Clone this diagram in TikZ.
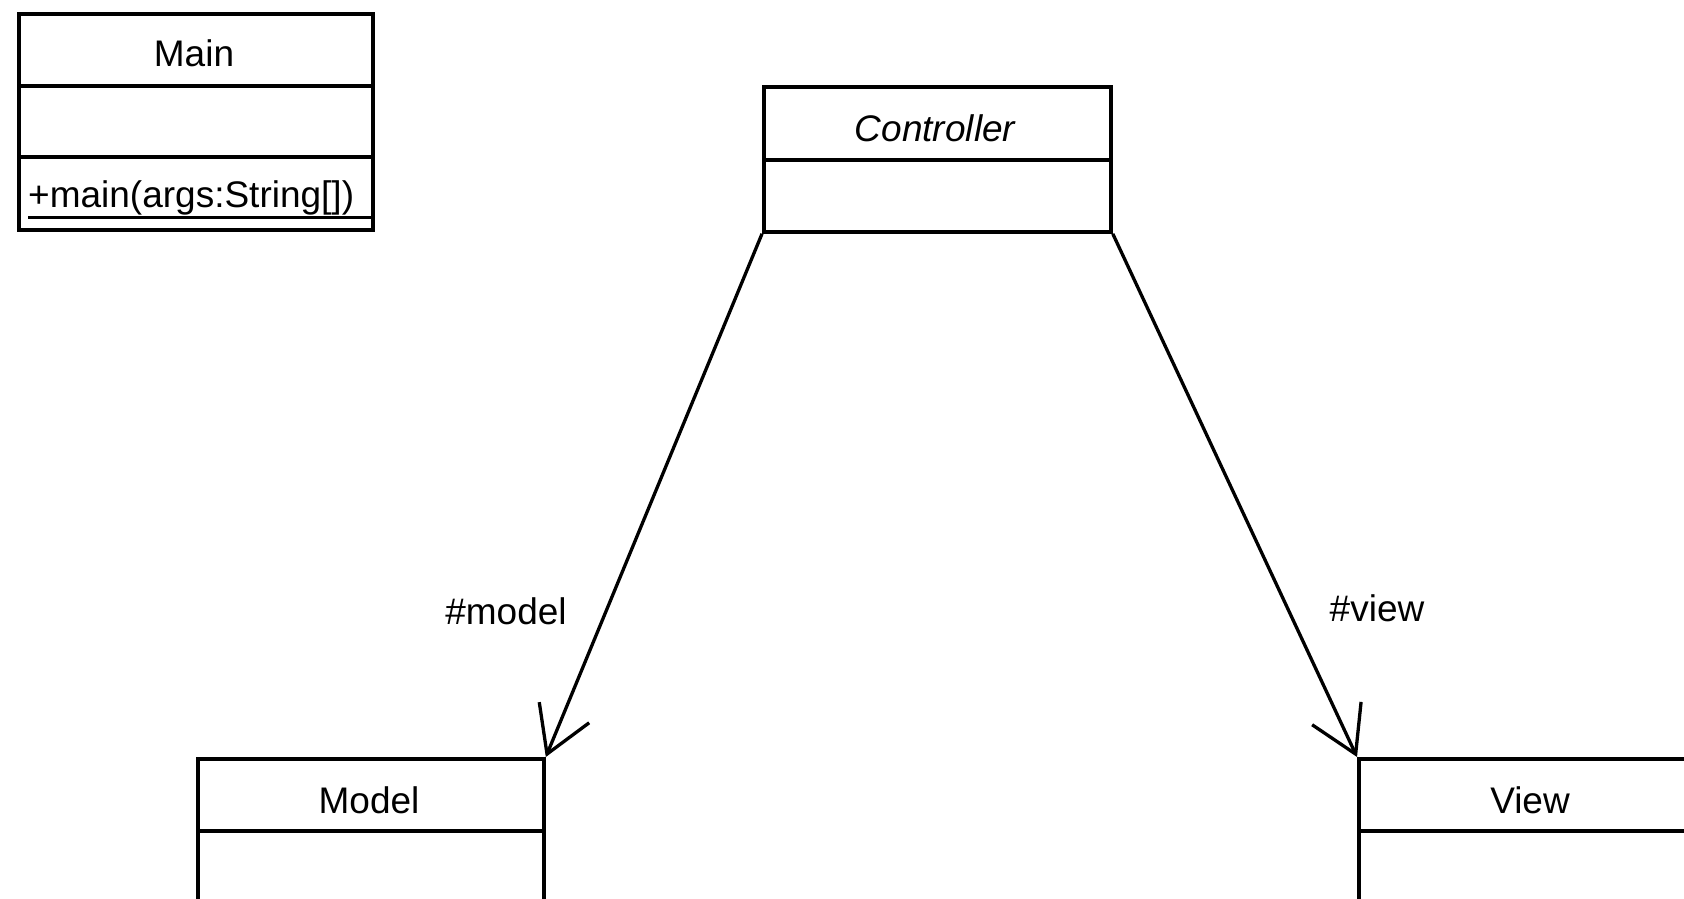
\documentclass[tikz,border=0pt]{standalone}
\usepackage{fontspec}
\setmainfont{Liberation Sans}
\usetikzlibrary{arrows.meta}
\begin{document}
\begin{tikzpicture}[x=1pt,y=-1pt]
\tikzset{
  classbox/.style={draw, line width=3.8pt, inner sep=0pt, anchor=north west},
  txt/.style={font=\fontsize{37}{44}\selectfont, inner sep=0pt},
  divider/.style={line width=3.8pt},
  assoc/.style={line width=3.3pt, -{Straight Barb[length=45pt,width=54pt]}}
}
\useasboundingbox (0,0) rectangle (1684,898);
\clip (0,0) rectangle (1684,898);

% Main class with a static operation
\node[classbox, minimum width=354pt, minimum height=216pt] (main) at (17,12) {};
\draw[divider] (main.west |- 0,86) -- (main.east |- 0,86);
\draw[divider] (main.west |- 0,157) -- (main.east |- 0,157);
\node[txt] (mainname) at (194,53) {Main};
\node[txt, anchor=base west] (mainop) at (28,207) {+main(args:String[])};
\draw[line width=3pt] (mainop.base west |- 0,217) -- (main.east |- 0,217);

% Abstract controller
\node[classbox, minimum width=347pt, minimum height=145pt] (controller) at (762,85) {};
\draw[divider] (controller.west |- 0,160) -- (controller.east |- 0,160);
\node[txt, font=\fontsize{37}{44}\selectfont\itshape] (controllername) at (935,128) {Controller};

% Model
\node[classbox, minimum width=346pt, minimum height=214pt] (model) at (196,757) {};
\draw[divider] (model.west |- 0,831) -- (model.east |- 0,831);
\node[txt] (modelname) at (369,800) {Model};

% View
\node[classbox, minimum width=346pt, minimum height=214pt] (view) at (1357,757) {};
\draw[divider] (view.west |- 0,831) -- (view.east |- 0,831);
\node[txt] (viewname) at (1530,800) {View};

% Associations
\draw[assoc] (controller.south west) -- (model.north east);
\draw[assoc] (controller.south east) -- (view.north west);
\node[txt] (modelrole) at (506,611) {\#model};
\node[txt] (viewrole) at (1377,608) {\#view};
\end{tikzpicture}
\end{document}
